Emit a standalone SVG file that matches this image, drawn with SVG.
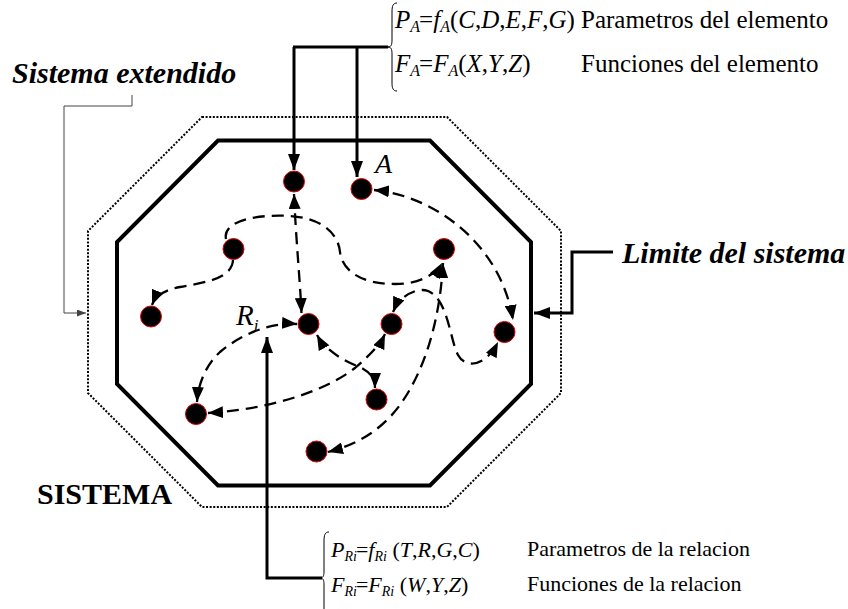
<svg xmlns="http://www.w3.org/2000/svg" width="848" height="609" viewBox="0 0 848 609">
<style>
.serif{font-family:"Liberation Serif","Times New Roman",serif;fill:#000}
.f{font-size:22px}
.ft{font-size:25px}
.i{font-style:italic}
.sub{font-size:14px;font-style:italic}
.subt{font-size:16px;font-style:italic}
.big{font-size:30px;font-weight:bold}
.dash{fill:none;stroke:#000;stroke-width:2.3;stroke-dasharray:12 7}
.thick{fill:none;stroke:#000;stroke-width:3}
.thin{fill:none;stroke:#444;stroke-width:1}
.brace{fill:none;stroke:#000;stroke-width:1}
.node{fill:#000;stroke:#e00000;stroke-width:1}
</style>
<defs>
<marker id="ah" viewBox="0 0 15 12" refX="15" refY="6" markerWidth="15" markerHeight="12" markerUnits="userSpaceOnUse" orient="auto-start-reverse"><path d="M0,0 L15,6 L0,12 Z" fill="#000"/></marker>
<marker id="ahL" viewBox="0 0 16 12" refX="16" refY="6" markerWidth="16" markerHeight="12" markerUnits="userSpaceOnUse" orient="auto"><path d="M0,0 L16,6 L0,12 Z" fill="#000"/></marker>
<marker id="ahS" viewBox="0 0 9 7" refX="9" refY="3.5" markerWidth="9" markerHeight="7" markerUnits="userSpaceOnUse" orient="auto"><path d="M0,0 L9,3.5 L0,7 Z" fill="#444"/></marker>
</defs>
<rect width="848" height="609" fill="#fff"/>
<g id="extended-system">
<polygon points="202,117 447,117 561,231 561,393 447,507 202,507 88,393 88,231" fill="none" stroke="#000" stroke-width="2" stroke-dasharray="2 1.6"/>
</g>
<g id="system-boundary">
<polygon points="218,140.5 430,140.5 531,242 531,384 430,485.5 218,485.5 117,384 117,242" fill="none" stroke="#000" stroke-width="4"/>
</g>
<g id="connectors">
<path class="thick" d="M293,47 L388,47"/>
<path class="thick" d="M294,47 L294,170" marker-end="url(#ahL)"/>
<path class="thick" d="M357,47 L357,177" marker-end="url(#ahL)"/>
<path class="thick" d="M322,578 L267,578 L267,337" marker-end="url(#ahL)"/>
<path class="thick" d="M613,252 L572,252 L572,313 L534,313" marker-end="url(#ahL)"/>
<path class="thin" d="M132,95 L132,106 L64,106 L64,313 L86,313" marker-end="url(#ahS)"/>
<path class="dash" d="M294,194 C296,240 300,280 301.5,313" marker-start="url(#ah)" marker-end="url(#ah)"/>
<path class="dash" d="M226,239 C222,220 260,214 290,216 C320,218 338,232 340,252 C342,270 360,284 395,284 C420,284 436,274 442,263" marker-end="url(#ah)"/>
<path class="dash" d="M233,260 C232,280 200,283 180,287 C165,290 156,295 152,305" marker-end="url(#ah)"/>
<path class="dash" d="M374,190 C430,195 500,240 513,320" marker-start="url(#ah)" marker-end="url(#ah)"/>
<path class="dash" d="M393,312 C400,295 418,287 428,291 C448,299 450,340 458,355 C465,368 485,368 498,342" marker-start="url(#ah)" marker-end="url(#ah)"/>
<path class="dash" d="M443,263 C440,320 425,370 400,405 C380,432 355,445 328,452" marker-start="url(#ah)" marker-end="url(#ah)"/>
<path class="dash" d="M208,413 C260,410 320,395 355,368 C370,355 380,345 385,334" marker-start="url(#ah)" marker-end="url(#ah)"/>
<path class="dash" d="M317,335 C325,350 345,362 360,367 C370,372 375,378 375,388" marker-start="url(#ah)" marker-end="url(#ah)"/>
<path class="dash" d="M297,324 C270,322 240,335 220,352 C205,366 198,385 197,402" marker-start="url(#ah)" marker-end="url(#ah)"/>
</g>
<g id="n1"><circle class="node" cx="294" cy="181.5" r="10.5"/></g>
<g id="nA"><circle class="node" cx="361.5" cy="189" r="10.5"/><text class="serif i" x="375" y="173" font-size="28">A</text></g>
<g id="n3"><circle class="node" cx="233.5" cy="249" r="10.5"/></g>
<g id="n4"><circle class="node" cx="444" cy="249" r="10.5"/></g>
<g id="n5"><circle class="node" cx="151" cy="316.5" r="10.5"/></g>
<g id="n6"><circle class="node" cx="308.5" cy="324" r="10.5"/></g>
<g id="n7"><circle class="node" cx="391.5" cy="324" r="10.5"/></g>
<g id="n8"><circle class="node" cx="504.5" cy="332" r="10.5"/></g>
<g id="n9"><circle class="node" cx="196" cy="414" r="10.5"/></g>
<g id="n10"><circle class="node" cx="376.5" cy="399.5" r="10.5"/></g>
<g id="n11"><circle class="node" cx="316.5" cy="451.5" r="10.5"/></g>
<g id="label-Ri"><text class="serif i" x="236" y="325" font-size="29">R<tspan font-size="17" dy="6">i</tspan></text></g>
<g id="label-sistema-extendido"><text class="serif big i" x="12" y="83">Sistema extendido</text></g>
<g id="label-limite"><text class="serif big i" x="622" y="263">Limite del sistema</text></g>
<g id="label-sistema"><text class="serif big" x="37" y="504">SISTEMA</text></g>
<g id="element-info">
<path class="brace" d="M397,3 C393,3 392,6 392,12 L392,40 C392,45 391,47 388,47 C391,47 392,49 392,54 L392,83 C392,88 393,91 397,91"/>
<text class="serif ft" x="395" y="28"><tspan class="i">P</tspan><tspan class="subt" dy="4">A</tspan><tspan dy="-4" dx="-1">=</tspan><tspan class="i">f</tspan><tspan class="subt" dy="4">A</tspan><tspan dy="-4">(</tspan><tspan class="i">C</tspan>,<tspan class="i">D</tspan>,<tspan class="i">E</tspan>,<tspan class="i">F</tspan>,<tspan class="i">G</tspan>)</text>
<text class="serif ft" x="581" y="28">Parametros del elemento</text>
<text class="serif ft" x="395" y="72"><tspan class="i">F</tspan><tspan class="subt" dy="4">A</tspan><tspan dy="-4" dx="-1">=</tspan><tspan class="i">F</tspan><tspan class="subt" dy="4">A</tspan><tspan dy="-4">(</tspan><tspan class="i">X</tspan>,<tspan class="i">Y</tspan>,<tspan class="i">Z</tspan>)</text>
<text class="serif ft" x="581" y="72">Funciones del elemento</text>
</g>
<g id="relation-info">
<path class="brace" d="M329,532 C325,532 324,535 324,541 L324,572 C324,576 323,578 320,578 C323,578 324,580 324,584 L324,612"/>
<text class="serif f" x="331" y="557"><tspan class="i">P</tspan><tspan class="sub" dy="4">Ri</tspan><tspan dy="-4" dx="-1">=</tspan><tspan class="i">f</tspan><tspan class="sub" dy="4">Ri</tspan><tspan dy="-4"> (</tspan><tspan class="i">T</tspan>,<tspan class="i">R</tspan>,<tspan class="i">G</tspan>,<tspan class="i">C</tspan>)</text>
<text class="serif f" x="527" y="556">Parametros de la relacion</text>
<text class="serif f" x="331" y="592"><tspan class="i">F</tspan><tspan class="sub" dy="4">Ri</tspan><tspan dy="-4" dx="-1">=</tspan><tspan class="i">F</tspan><tspan class="sub" dy="4">Ri</tspan><tspan dy="-4"> (</tspan><tspan class="i">W</tspan>,<tspan class="i">Y</tspan>,<tspan class="i">Z</tspan>)</text>
<text class="serif f" x="527" y="591">Funciones de la relacion</text>
</g>
</svg>
